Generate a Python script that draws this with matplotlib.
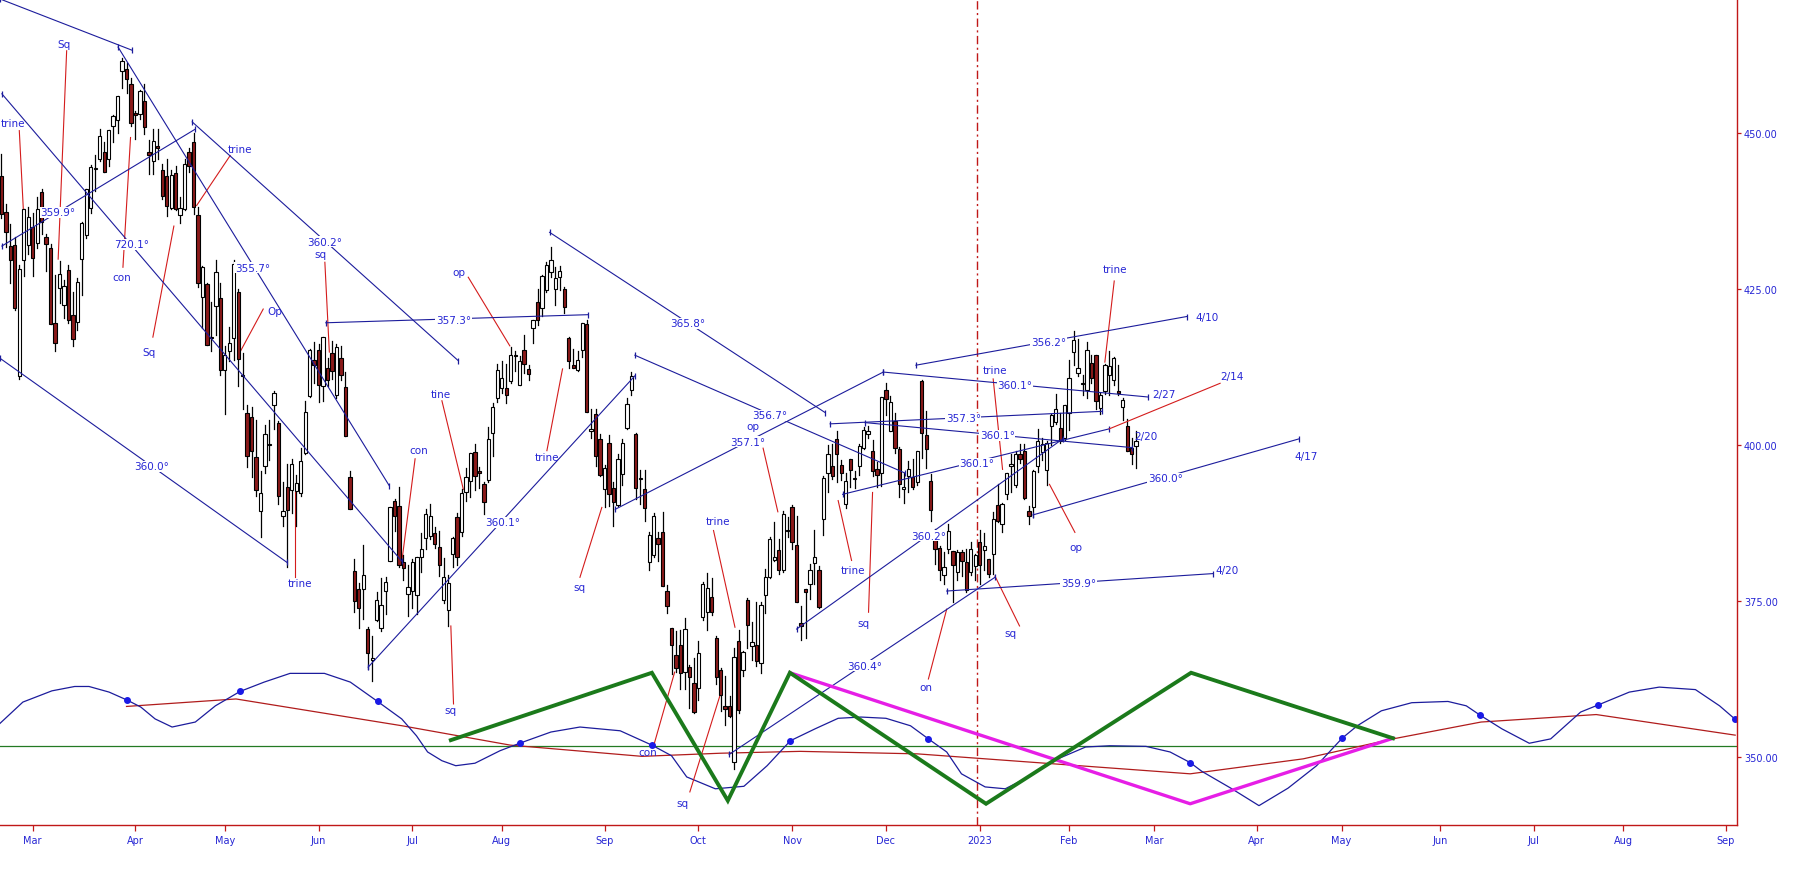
import matplotlib.pyplot as plt
import pandas as pd

# trading calendar (NYSE holidays inside the shown range)
HOLIDAYS = ['2022-02-21', '2022-04-15', '2022-05-30', '2022-06-20', '2022-07-04',
            '2022-09-05', '2022-11-24', '2022-12-26', '2023-01-02', '2023-01-16',
            '2023-02-20', '2023-04-07', '2023-05-29', '2023-06-19', '2023-07-04',
            '2023-09-04']

# daily candles, 2022-02-17 .. 2023-02-23
opens = [
    443.2, 437.3, 431.9, 432.0, 411.0, 429.6, 432.0,
    435.0, 432.4, 440.5, 433.4, 431.6, 419.6, 425.1, 422.5, 428.1, 420.9, 419.8, 429.9, 433.6, 438.0, 444.3, 445.9, 446.9, 445.9, 451.2, 452.1, 460.0, 460.3, 457.9,
    453.3, 453.1, 455.2, 446.9, 445.6, 448.0, 444.1, 443.1, 438.0, 443.6, 436.8, 437.9, 446.9, 448.5, 436.9, 423.7, 425.8, 417.2, 422.3, 423.6,
    412.1, 415.0, 417.1, 424.6, 411.1, 405.1, 404.5, 398.1, 389.4, 396.7, 400.0, 406.5, 403.5, 388.6, 393.2, 392.8, 392.6, 392.3, 398.7, 407.9, 413.6,
    415.2, 409.4, 412.4, 414.8, 408.1, 413.9, 409.3, 394.9, 379.8, 376.9, 377.0, 370.5, 365.5, 371.9, 370.6, 376.6, 381.4, 391.1, 390.2, 381.2, 376.2,
    376.6, 375.9, 382.1, 385.1, 385.4, 385.9, 383.7, 375.1, 373.6, 382.6, 388.4, 386.1, 392.5, 394.2, 398.9, 395.8, 393.8, 394.4, 401.9, 407.6,
    409.2, 409.1, 410.3, 414.4, 409.7, 415.3, 412.2, 418.8, 423.0, 422.0, 424.8, 427.7, 425.0, 426.9, 425.0, 417.1, 412.9, 412.1, 415.2, 419.4, 402.2, 405.0, 401.0,
    392.9, 400.3, 393.1, 390.4, 395.3, 402.7, 408.8, 401.8, 394.5, 393.0, 381.2, 382.3, 385.1, 386.1, 376.6, 370.6, 366.4, 368.0, 363.6, 364.5, 361.8,
    361.1, 372.4, 373.2, 375.6, 369.0, 364.0, 358.2, 358.2, 349.2, 368.6, 364.0, 375.1, 367.8, 368.0, 365.1, 375.9, 378.8, 381.6, 383.1, 379.9, 386.4,
    390.1, 383.9, 371.5, 377.0, 377.7, 381.1, 379.9, 388.1, 395.6, 396.7, 401.0, 396.8, 390.5, 397.7, 394.6, 396.6, 399.6, 401.8, 399.1, 396.1, 395.5,
    408.8, 402.3, 403.9, 399.4, 392.9, 395.1, 394.9, 394.1, 410.2, 401.6, 394.3, 385.2, 383.5, 379.2, 383.3, 383.0, 379.7, 382.8, 381.3, 379.6, 380.6,
    384.4, 383.2, 381.7, 382.6, 390.4, 387.3, 392.2, 396.7, 393.6, 398.5, 399.0, 389.4, 390.1, 396.7, 398.9, 396.0, 403.1, 403.7, 402.8, 401.1,
    405.2, 414.9, 411.6, 409.8, 408.9, 413.1, 414.4, 405.9, 408.7, 411.2, 410.4, 408.7, 406.1, 403.1, 399.5, 399.9,
]
highs = [
    446.6, 438.7, 435.5, 433.3, 428.8, 437.8, 438.2,
    437.2, 439.7, 441.1, 433.9, 432.3, 427.2, 429.5, 426.4, 428.8, 424.6, 426.8, 435.7, 441.1, 444.9, 446.5, 450.6, 448.5, 450.5, 452.9, 455.9, 462.1, 461.2, 458.8,
    453.5, 456.9, 457.8, 448.9, 450.7, 450.6, 445.0, 445.8, 444.1, 444.7, 439.8, 445.8, 447.6, 450.0, 438.1, 428.7, 426.0, 422.9, 429.6, 425.9,
    415.9, 418.9, 429.7, 425.0, 414.8, 406.4, 406.1, 404.0, 395.8, 403.2, 404.0, 408.6, 403.8, 394.1, 397.0, 397.7, 395.2, 399.5, 407.0, 415.4, 416.5,
    416.2, 417.4, 414.0, 416.6, 416.2, 415.8, 411.7, 395.8, 381.8, 377.9, 383.9, 370.9, 369.4, 376.5, 378.7, 378.8, 390.1, 391.4, 393.2, 382.3, 380.7,
    381.7, 382.0, 385.9, 389.8, 390.6, 386.9, 386.2, 381.9, 379.1, 385.3, 389.1, 392.9, 396.3, 398.8, 400.2, 396.5, 394.1, 402.9, 406.8, 413.0,
    413.4, 413.0, 415.7, 415.1, 414.2, 417.6, 412.8, 420.0, 425.0, 427.2, 429.4, 431.7, 428.6, 428.7, 425.3, 417.4, 415.4, 415.1, 419.6, 420.0, 405.8, 405.7, 401.7,
    396.8, 401.6, 394.1, 398.6, 401.0, 407.5, 411.7, 401.9, 396.0, 396.0, 386.0, 389.1, 386.1, 389.3, 377.5, 370.6, 370.2, 370.4, 372.3, 364.8, 365.9,
    368.6, 378.0, 379.5, 378.7, 369.4, 364.2, 363.0, 359.8, 367.5, 370.3, 367.0, 375.5, 371.6, 374.8, 374.8, 380.1, 385.3, 387.6, 385.0, 389.5, 388.4,
    390.4, 388.6, 374.2, 377.0, 381.0, 386.4, 380.6, 395.0, 400.0, 400.2, 402.3, 397.6, 395.6, 397.8, 395.8, 400.1, 402.9, 403.0, 400.8, 397.3, 407.7,
    410.0, 407.9, 405.1, 399.7, 395.6, 397.4, 397.7, 399.0, 410.5, 405.5, 395.3, 386.6, 383.8, 382.9, 387.4, 383.0, 383.1, 383.1, 383.4, 384.4, 382.6,
    386.4, 385.9, 381.8, 389.3, 393.7, 390.7, 395.6, 398.5, 399.1, 400.2, 400.1, 390.2, 396.0, 402.6, 401.2, 400.7, 404.9, 408.2, 405.1, 406.5,
    413.7, 418.3, 417.0, 411.3, 416.5, 414.5, 414.5, 408.4, 413.0, 415.1, 414.1, 412.9, 407.5, 404.2, 401.1, 402.2,
]
lows = [
    436.4, 431.8, 425.9, 421.7, 410.6, 427.1, 430.7,
    427.1, 431.6, 433.8, 427.9, 419.4, 415.1, 422.8, 420.4, 419.5, 415.8, 418.4, 424.0, 433.2, 437.2, 440.7, 445.6, 443.7, 444.8, 448.5, 450.1, 457.2, 456.5, 451.2,
    449.1, 452.3, 449.9, 443.5, 443.5, 445.9, 439.4, 436.7, 437.8, 437.7, 435.6, 437.7, 443.7, 437.1, 425.4, 418.8, 416.0, 415.0, 417.6, 411.2,
    405.0, 413.4, 413.7, 409.4, 405.7, 396.5, 394.8, 391.9, 385.2, 395.6, 397.6, 402.6, 390.6, 387.1, 380.5, 389.1, 387.0, 391.9, 398.5, 407.7, 410.0,
    406.9, 407.0, 409.5, 410.6, 407.6, 410.4, 401.4, 389.8, 373.3, 370.6, 372.1, 364.1, 362.2, 371.8, 370.2, 372.9, 381.4, 386.2, 380.4, 378.4, 372.6,
    373.8, 372.9, 379.6, 383.3, 385.0, 383.5, 379.0, 374.7, 371.0, 380.5, 380.7, 385.4, 391.0, 391.6, 392.8, 393.1, 389.0, 394.1, 398.2, 406.9,
    408.4, 406.8, 410.0, 411.9, 409.6, 411.6, 410.4, 416.3, 419.2, 420.7, 424.6, 426.9, 422.5, 424.9, 421.2, 412.4, 412.3, 411.8, 414.1, 405.3, 401.2, 396.6, 395.0,
    390.0, 390.3, 387.1, 390.2, 393.6, 402.5, 408.1, 391.4, 390.6, 387.8, 379.9, 382.1, 381.4, 377.4, 373.1, 363.3, 363.7, 360.9, 360.9, 357.9, 357.0,
    359.2, 372.0, 370.4, 372.7, 361.7, 357.3, 355.2, 356.4, 348.1, 357.0, 363.0, 367.5, 365.6, 364.6, 363.5, 373.1, 378.7, 381.4, 379.3, 379.7, 385.3,
    383.3, 374.8, 368.8, 369.1, 375.3, 377.7, 373.9, 385.6, 392.5, 394.5, 394.0, 394.4, 389.9, 393.3, 393.1, 395.2, 399.3, 401.1, 395.1, 393.3, 393.5,
    404.8, 402.2, 398.7, 391.6, 390.7, 392.4, 392.9, 393.6, 397.9, 396.3, 387.9, 381.0, 378.3, 377.8, 382.7, 374.9, 378.4, 379.0, 376.4, 379.1, 378.4,
    377.8, 380.0, 378.8, 379.4, 387.7, 386.0, 391.4, 392.4, 393.3, 397.1, 391.3, 387.3, 388.4, 395.7, 397.6, 393.6, 400.0, 403.4, 400.3, 400.8,
    402.4, 412.9, 411.1, 408.1, 407.6, 409.9, 405.8, 405.0, 408.2, 408.0, 409.6, 408.1, 404.0, 399.0, 397.0, 396.3,
]
closes = [
    437.1, 434.2, 429.6, 422.0, 428.3, 437.8, 436.6,
    430.0, 437.9, 435.7, 432.2, 419.4, 416.3, 427.4, 425.5, 420.1, 417.0, 426.2, 435.6, 441.1, 444.5, 444.4, 449.6, 443.8, 450.5, 452.7, 455.9, 461.6, 458.7, 451.6,
    452.9, 456.8, 451.0, 446.5, 448.8, 447.6, 439.9, 438.3, 443.3, 437.8, 438.0, 445.0, 444.7, 438.1, 426.0, 428.5, 416.1, 417.3, 427.8, 412.0,
    414.5, 416.4, 429.1, 413.8, 411.3, 398.2, 399.1, 392.8, 392.3, 401.7, 400.1, 408.3, 391.9, 389.5, 389.6, 396.9, 393.9, 397.4, 405.3, 415.3, 412.9,
    409.6, 417.4, 410.5, 411.8, 415.7, 411.2, 401.4, 389.8, 375.0, 373.9, 379.2, 366.7, 365.9, 375.1, 374.4, 378.1, 390.1, 388.6, 380.7, 380.3, 377.3,
    381.2, 382.0, 383.3, 389.0, 388.7, 384.2, 380.8, 378.8, 377.9, 385.1, 382.0, 392.3, 394.8, 398.8, 395.1, 395.6, 390.9, 401.0, 406.1, 412.0,
    410.8, 408.1, 414.5, 414.2, 413.5, 413.0, 411.4, 420.0, 420.0, 427.1, 428.9, 429.7, 426.7, 427.9, 422.1, 413.4, 412.4, 413.7, 419.5, 405.3, 402.6, 398.2, 395.2,
    396.4, 392.2, 390.8, 397.8, 400.4, 406.6, 411.0, 393.1, 394.6, 389.9, 385.6, 388.6, 384.1, 377.4, 374.2, 368.0, 364.3, 363.4, 370.5, 362.8, 357.2,
    366.6, 377.8, 377.1, 373.2, 362.8, 360.0, 357.7, 356.6, 366.0, 357.6, 366.8, 371.1, 368.5, 365.4, 374.3, 378.9, 384.9, 382.0, 380.0, 389.0, 386.2,
    384.5, 374.9, 371.0, 376.4, 380.0, 382.0, 374.1, 394.7, 398.5, 395.1, 398.5, 395.5, 394.2, 396.0, 394.6, 399.9, 402.4, 402.3, 395.9, 395.2, 407.7,
    407.4, 406.9, 399.6, 393.8, 393.2, 396.2, 393.3, 399.0, 402.0, 399.4, 389.6, 383.3, 380.0, 380.5, 386.2, 380.7, 382.9, 381.4, 376.7, 383.4, 382.4,
    380.8, 383.8, 379.4, 388.1, 387.9, 390.6, 395.5, 397.0, 398.5, 397.8, 391.5, 388.6, 395.9, 400.6, 400.2, 400.4, 404.8, 405.7, 400.6, 406.5,
    410.8, 416.8, 412.4, 409.8, 415.2, 410.7, 407.1, 408.0, 412.8, 412.6, 414.0, 408.3, 407.3, 399.1, 398.5, 400.7,
]

# blue angle lines: bar index / price of both ends, label and where it sits
angle_lines = [
    (-0.3, 471.5, 29.2, 463.3, None, None, None),
    (26.1, 463.8, 86.8, 393.5, '355.7°', 56.2, 428.4),
    (0.1, 456.3, 89.6, 381.4, '720.1°', 29.2, 432.2),
    (-0.3, 413.9, 63.9, 381.2, '360.0°', 33.6, 396.6),
    (42.7, 451.8, 102.3, 413.5, '360.2°', 72.4, 432.6),
    (0.1, 431.9, 43.3, 450.6, '359.9°', 12.7, 437.3),
    (72.6, 419.6, 131.4, 420.9, '357.3°', 101.2, 420.1),
    (82.1, 364.4, 141.8, 411.1, '360.1°', 112.1, 387.6),
    (122.7, 434.1, 184.4, 405.2, '365.8°', 153.6, 419.5),
    (141.8, 414.4, 202.3, 395.5, '356.7°', 171.9, 404.8),
    (137.4, 389.7, 197.4, 411.7, '357.1°', 167.0, 400.5),
    (197.4, 411.7, 256.7, 407.7, '360.1°', 226.9, 409.7),
    (204.7, 412.8, 265.3, 420.6, '356.2°', 234.4, 416.5),
    (185.5, 403.4, 246.3, 405.4, '357.3°', 215.3, 404.3),
    (193.3, 403.6, 253.0, 399.6, '360.1°', 222.9, 401.6),
    (188.3, 392.1, 248.0, 402.6, '360.1°', 218.3, 397.1),
    (230.9, 388.8, 290.5, 401.0, '360.0°', 260.5, 394.7),
    (211.6, 376.6, 271.3, 379.4, '359.9°', 241.1, 377.9),
    (178.0, 370.5, 237.6, 401.0, '360.2°', 207.5, 385.5),
    (162.9, 350.4, 222.4, 378.8, '360.4°', 193.2, 364.6),
]
date_tags = [('2/27', 260.3, 408.2), ('4/10', 269.8, 420.6), ('2/20', 256.2, 401.5),
             ('2/14', 275.4, 411.1), ('4/17', 292.0, 398.3), ('4/20', 274.3, 380.0)]
red_extension = (248.0, 402.6, 272.8, 409.9)

# aspect words with their red pointer lines
aspects = [
    ('trine', 2.5, 451.7, 4.0, 450.4, 4.9, 437.8),
    ('Sq', 13.9, 464.3, 14.6, 463.2, 12.7, 429.8),
    ('con', 26.9, 427.0, 27.2, 428.5, 28.9, 449.3),
    ('Sq', 33.1, 414.9, 33.9, 417.3, 38.6, 435.1),
    ('trine', 53.4, 447.4, 51.2, 446.4, 43.7, 438.4),
    ('Op', 61.2, 421.5, 58.6, 421.8, 53.4, 414.9),
    ('sq', 71.5, 430.7, 72.4, 429.3, 73.4, 414.9),
    ('trine', 66.8, 377.9, 65.7, 378.8, 65.7, 392.4),
    ('con', 93.5, 399.2, 92.6, 397.8, 89.6, 381.2),
    ('tine', 98.3, 408.2, 98.6, 407.1, 103.4, 392.9),
    ('sq', 100.6, 357.6, 101.2, 358.5, 100.6, 371.0),
    ('op', 102.5, 427.7, 104.5, 426.9, 113.8, 415.9),
    ('trine', 122.1, 398.1, 122.1, 399.1, 125.6, 412.2),
    ('sq', 129.5, 377.2, 129.5, 378.8, 134.4, 390.0),
    ('con', 144.6, 350.8, 146.2, 352.3, 150.7, 363.6),
    ('sq', 152.4, 342.7, 154.1, 344.4, 161.3, 360.9),
    ('trine', 160.5, 387.8, 159.4, 386.3, 164.2, 370.8),
    ('op', 168.1, 403.1, 170.5, 399.5, 173.8, 389.3),
    ('trine', 190.5, 380.0, 190.3, 381.5, 187.3, 391.1),
    ('sq', 193.0, 371.5, 194.1, 373.2, 195.0, 392.4),
    ('trine', 222.3, 412.0, 222.0, 410.6, 224.1, 396.1),
    ('op', 240.6, 383.6, 240.3, 386.0, 234.6, 393.7),
    ('trine', 249.3, 428.2, 249.1, 426.3, 247.0, 413.3),
    ('sq', 225.9, 369.8, 227.9, 371.0, 222.4, 379.0),
    ('on', 206.9, 361.2, 207.5, 362.5, 211.6, 373.7),
]

# cycle wave (blue) and its marked points
wave_x = [-0.3, 4.8, 11.3, 16.4, 19.6, 24.1, 28.2, 31.2, 34.4, 38.2, 43.4, 47.9, 53.4, 58.8,
          64.6, 72.3, 78.1, 84.2, 89.6, 92.9, 95.4, 98.6, 101.7, 106.0, 111.6, 116.0, 123.0,
          129.5, 138.5, 145.6, 150.0, 153.4, 159.8, 166.2, 171.4, 176.6, 182.1, 187.3, 192.4,
          198.0, 203.5, 207.5, 211.6, 214.9, 220.2, 224.7, 229.1, 236.5, 242.7, 248.1, 256.2,
          261.6, 266.1, 268.7, 275.2, 281.5, 288.0, 294.4, 300.1, 303.5, 308.9, 315.7, 323.8,
          327.9, 331.0, 335.9, 342.0, 346.8, 353.5, 357.3, 364.4, 371.1, 379.2, 384.6, 388.0, 390.3]
wave_p = [355.4, 358.8, 360.6, 361.3, 361.3, 360.4, 359.1, 358.0, 356.1, 354.8, 355.6, 358.2,
          360.5, 362.0, 363.4, 363.4, 362.0, 358.9, 356.1, 353.4, 350.8, 349.4, 348.6, 349.0,
          351.0, 352.2, 354.0, 354.8, 354.2, 351.9, 350.2, 346.8, 344.9, 345.3, 348.6, 352.6,
          354.5, 356.2, 356.4, 356.2, 355.0, 352.9, 350.8, 347.3, 345.2, 344.9, 346.5, 349.7,
          351.6, 351.8, 351.7, 350.8, 349.1, 347.7, 345.0, 342.2, 345.0, 348.6, 353.0, 355.0,
          357.4, 358.7, 358.9, 358.2, 356.7, 354.5, 352.2, 352.9, 357.2, 358.3, 360.4, 361.2,
          360.8, 358.2, 356.1, 355.0]
dot_x = [28.2, 53.4, 84.2, 116.0, 145.6, 176.6, 207.5, 266.1, 300.1, 331.0, 357.3, 388.0]
dot_p = [359.1, 360.5, 358.9, 352.2, 351.9, 352.6, 352.9, 349.1, 353.0, 356.7, 358.3, 356.1]

# slow red line
slow_x = [28.0, 52.5, 89.7, 113.9, 143.4, 160.9, 178.8, 205.0, 266.1, 291.4, 311.5, 331.2, 357.0, 388.1]
slow_p = [358.1, 359.3, 355.0, 351.9, 350.1, 350.6, 350.9, 350.5, 347.3, 349.7, 352.9, 355.6, 356.8, 353.5]

# projection zigzags
zig_x = [100.6, 145.6, 162.6, 176.5, 220.4, 266.3, 311.5]
zig_p = [352.7, 363.5, 343.0, 363.5, 342.5, 363.5, 353.0]
mag_x = [176.5, 266.1, 311.5]
mag_p = [363.5, 342.5, 353.0]
base_level = 351.8

NAVY = '#1c1c9c'
TXT = '#2626d4'
RED = '#d41c1c'
AXRED = '#c01818'

days = pd.bdate_range('2022-02-17', '2023-09-29', freq='C', holidays=HOLIDAYS)

fig = plt.figure(figsize=(17.97, 8.87), dpi=100)
ax = fig.add_axes([0.0, 0.0688, 0.9666, 0.9312])

# candles
for i in range(len(closes)):
    o, h, l, c = opens[i], highs[i], lows[i], closes[i]
    ax.plot([i, i], [l, h], color='black', lw=0.9, zorder=2)
    face = 'white' if c >= o else '#8b1a1a'
    ax.bar(i, max(abs(c - o), 0.15), bottom=min(o, c), width=0.74, color=face,
           edgecolor='black', linewidth=0.8, zorder=2.5)

# angle lines
for x0, p0, x1, p1, lab, lx, lp in angle_lines:
    ax.plot([x0, x1], [p0, p1], color=NAVY, lw=0.8, zorder=3)
    ax.plot([x0, x1], [p0, p1], ls='none', marker='|', ms=5, mew=0.9, color=NAVY, zorder=3)
    if lab:
        ax.text(lx, lp, lab, color=TXT, fontsize=7.5, ha='center', va='center', zorder=6,
                bbox=dict(facecolor='white', edgecolor='none', pad=0.4))
x0, p0, x1, p1 = red_extension
ax.plot([x0, x1], [p0, p1], color=RED, lw=0.8, zorder=3)
for lab, lx, lp in date_tags:
    ax.text(lx, lp, lab, color=TXT, fontsize=7.5, ha='center', va='center', zorder=6)

for lab, lx, lp, x0, p0, x1, p1 in aspects:
    ax.plot([x0, x1], [p0, p1], color=RED, lw=0.8, zorder=1.8)
    ax.text(lx, lp, lab, color=TXT, fontsize=7.5, ha='center', va='center', zorder=6)

# lower study
ax.axhline(base_level, color='#237a23', lw=0.9, zorder=1)
ax.plot(slow_x, slow_p, color='#b01c1c', lw=0.9, zorder=1.5)
ax.plot(wave_x, wave_p, color=NAVY, lw=0.9, zorder=1.6)
ax.plot(dot_x, dot_p, 'o', color='#1a1ae6', ms=4, zorder=1.7)
ax.plot(zig_x, zig_p, color='#1b7a1b', lw=2.8, zorder=4, solid_joinstyle='miter')
ax.plot(mag_x, mag_p, color='#e61ee6', lw=2.4, zorder=3.9)

# year boundary
jan3 = days.get_loc(pd.Timestamp('2023-01-03'))
ax.axvline(jan3 - 0.7, color=AXRED, lw=1.0, ls=(0, (6, 2.5, 1.5, 2.5)), zorder=1.2)

# axes
ax.set_xlim(-0.32, 388.5)
ax.set_ylim(339.1, 471.5)
for side in ['top', 'left']:
    ax.spines[side].set_visible(False)
for side in ['right', 'bottom']:
    ax.spines[side].set_color(AXRED)
    ax.spines[side].set_linewidth(1.0)

ax.yaxis.tick_right()
ax.set_yticks([350, 375, 400, 425, 450])
ax.set_yticklabels([f'{v:.2f}' for v in [350, 375, 400, 425, 450]])

month_pos, month_lab = [], []
for per in pd.period_range('2022-03', '2023-09', freq='M'):
    first = days[(days.year == per.year) & (days.month == per.month)][0]
    month_pos.append(days.get_loc(first))
    month_lab.append(str(per.year) if per.month == 1 else first.strftime('%b'))
ax.set_xticks(month_pos)
ax.set_xticklabels(month_lab)

ax.tick_params(axis='both', colors=AXRED, labelcolor=TXT, labelsize=7, length=4, width=0.9)
ax.tick_params(axis='y', length=3, pad=2)

fig.savefig('out.png', dpi=100, facecolor='white')
